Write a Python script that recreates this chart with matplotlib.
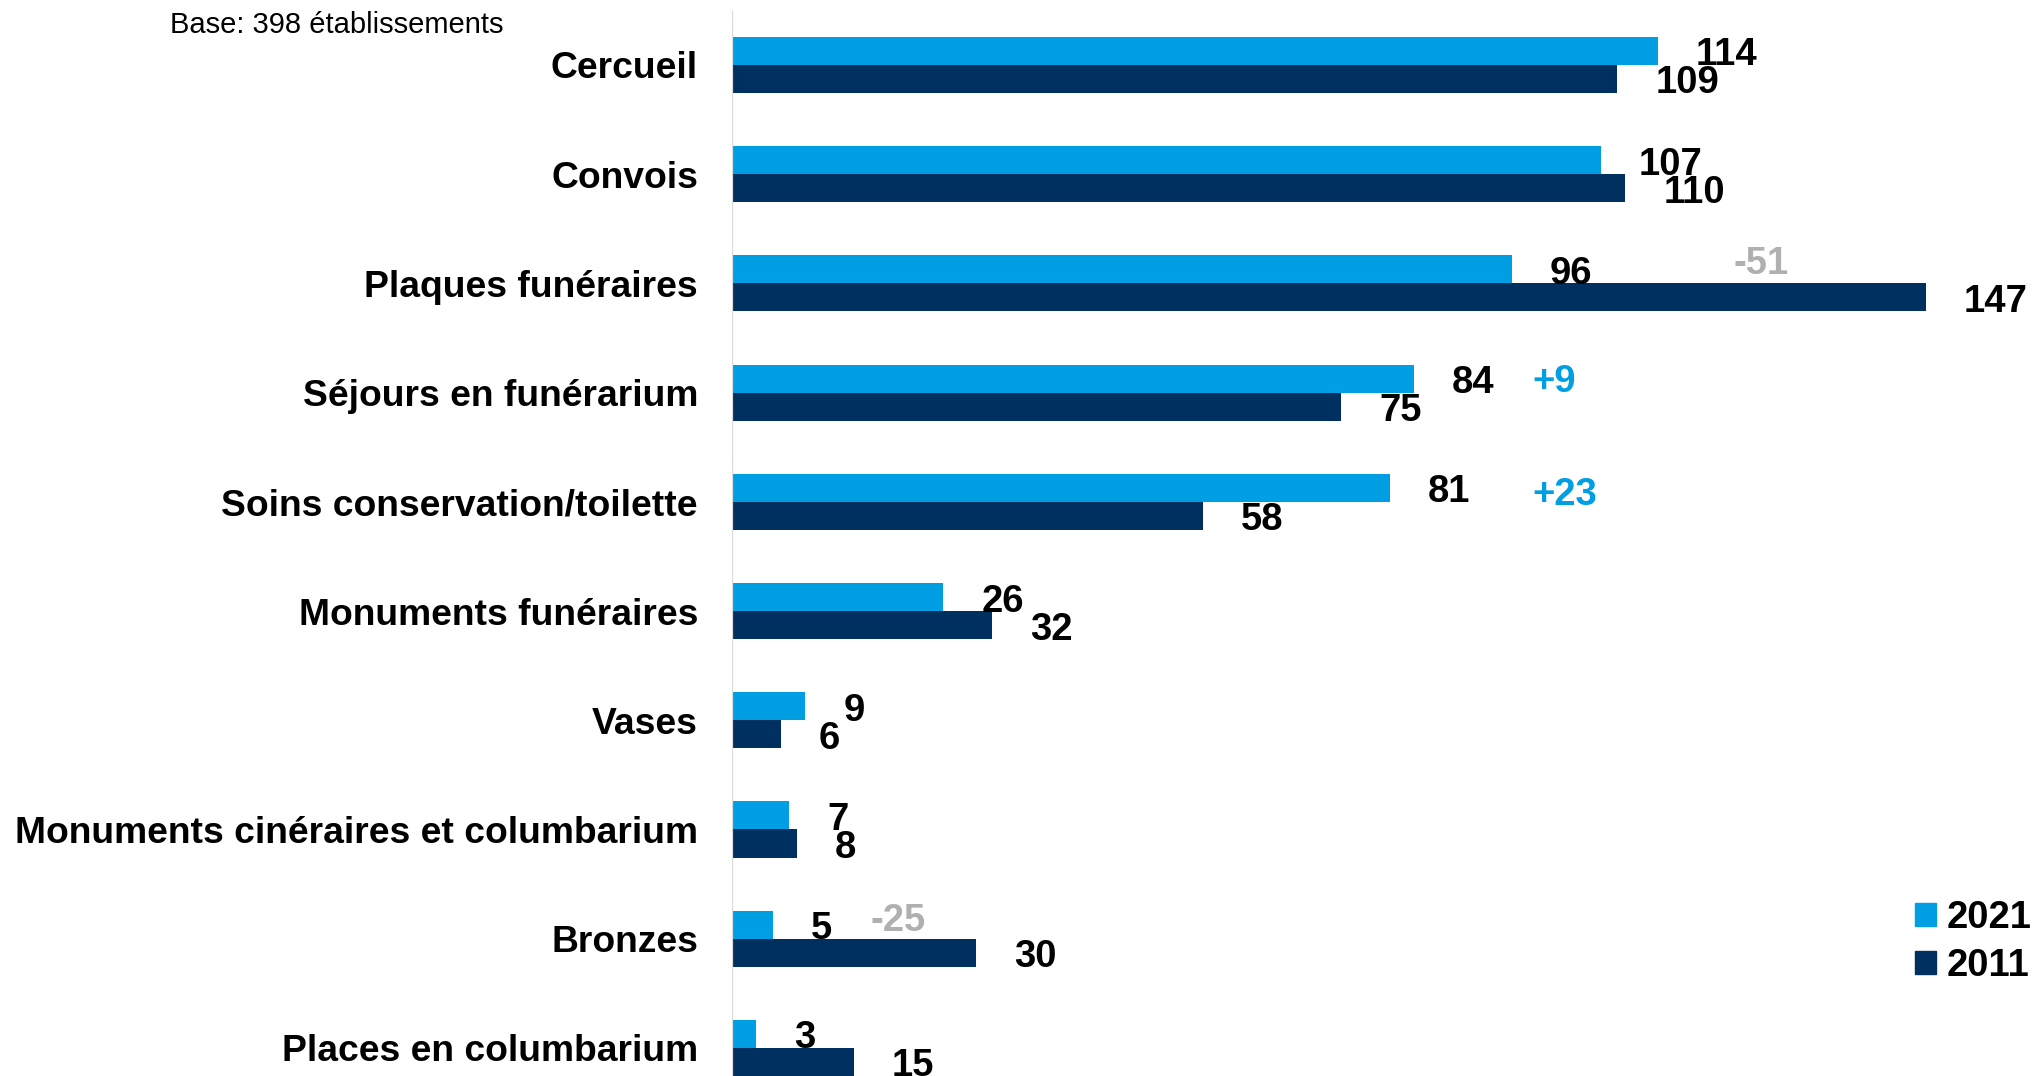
import matplotlib
matplotlib.use("Agg")
import matplotlib.pyplot as plt
from matplotlib.patches import Patch

plt.rcParams['font.family'] = ['Liberation Sans', 'DejaVu Sans']

# ---- data ----
categories = ["Cercueil", "Convois", "Plaques funéraires", "Séjours en funérarium",
              "Soins conservation/toilette", "Monuments funéraires", "Vases",
              "Monuments cinéraires et columbarium", "Bronzes", "Places en columbarium"]
values_2021 = [114, 107, 96, 84, 81, 26, 9, 7, 5, 3]
values_2011 = [109, 110, 147, 75, 58, 32, 6, 8, 30, 15]
series_labels = ["2021", "2011"]
base_note = "Base: 398 établissements"

delta_texts = ["-51", "+9", "+23", "-25"]
delta_cat = [2, 3, 4, 8]
delta_x = [126.7, 101.2, 102.5, 20.4]
delta_dy = [-0.205, -0.13, -0.093, -0.19]
delta_colors = ["#b0b0b0", "#009FE3", "#009FE3", "#b0b0b0"]

# ---- style ----
c2021 = "#009FE3"
c2011 = "#00305F"
W, H = 2039, 1076
fig = plt.figure(figsize=(W / 100, H / 100), dpi=100)
axx = 732 / W
ax = fig.add_axes([axx, 0, 1 - axx, 1])
ppu = 8.12
ax.set_xlim(0, (W - 732) / ppu)
ax.set_ylim(9.257, -0.595)

h = 0.2565
ys = list(range(len(categories)))
ax.barh([y - h / 2 for y in ys], values_2021, height=h, color=c2021, label=series_labels[0])
ax.barh([y + h / 2 for y in ys], values_2011, height=h, color=c2011, label=series_labels[1])

fs = 26.8
vfs = 27.5
for y, v in zip(ys, values_2021):
    ax.annotate(str(v), (v, y - h / 2), xytext=(27.4, -3.2), textcoords="offset points",
                ha="left", va="center", fontsize=vfs, fontweight="bold", color="black")
for y, v in zip(ys, values_2011):
    ax.annotate(str(v), (v, y + h / 2), xytext=(27.4, -3.2), textcoords="offset points",
                ha="left", va="center", fontsize=vfs, fontweight="bold", color="black",
                annotation_clip=False)

for t, c, x, dy, col in zip(delta_texts, delta_cat, delta_x, delta_dy, delta_colors):
    ax.annotate(t, (x, c + dy), xytext=(0, -2.5), textcoords="offset points",
                ha="center", va="center", fontsize=vfs, fontweight="bold", color=col)

ax.set_yticks(ys)
ax.set_yticklabels(categories, fontsize=fs, fontweight="bold")
ax.tick_params(axis="y", length=0, pad=24.5)
ax.set_xticks([])
for s in ax.spines.values():
    s.set_visible(False)
ax.axvline(0, ymin=0, ymax=1 - 12 / H, color="#d9d9d9", lw=1.6)

fig.text(170 / W, 1 - 25 / H, base_note, ha="left", va="center", fontsize=21)

handles = [Patch(color=c2021), Patch(color=c2011)]
fig.legend(handles, series_labels, loc="upper right", bbox_to_anchor=(2032 / W, 1 - 900 / H),
           frameon=False, prop={"weight": "bold", "size": vfs},
           handlelength=0.55, handleheight=0.55, handletextpad=0.3, labelspacing=0.32,
           borderpad=0, borderaxespad=0)

fig.savefig("out.png", dpi=100)
